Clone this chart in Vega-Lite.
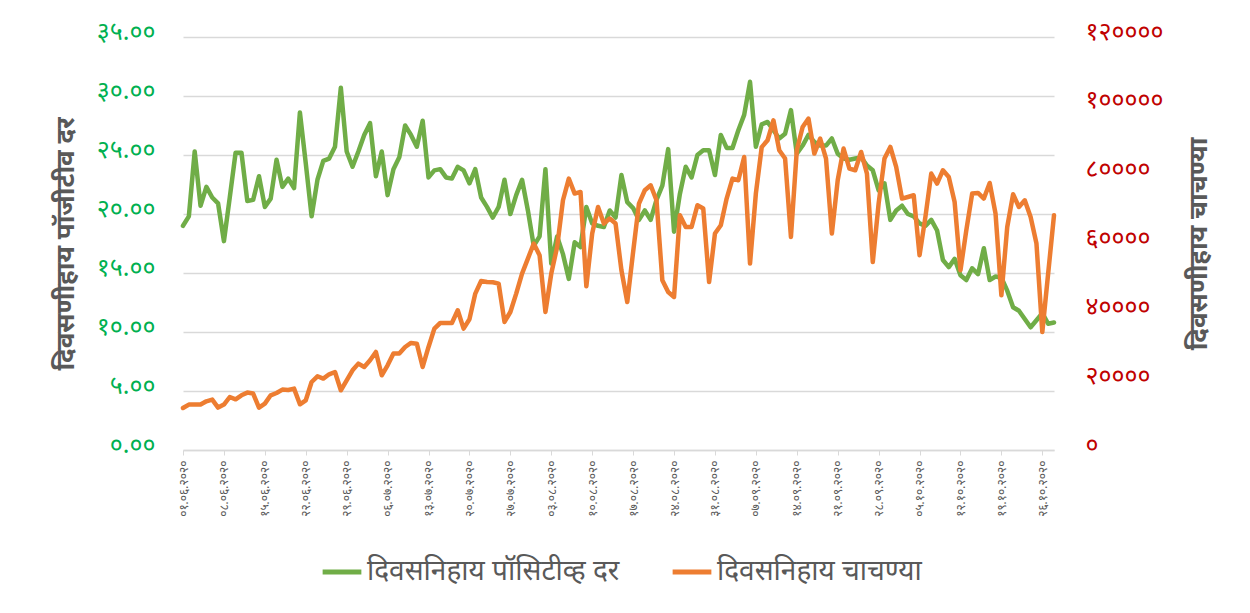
{
  "$schema": "https://vega.github.io/schema/vega-lite/v6.json",
  "width": 871,
  "height": 413,
  "autosize": {"type": "none"},
  "padding": {"left": 183, "top": 37, "right": 196, "bottom": 163},
  "background": "white",
  "config": {
    "view": {"stroke": null},
    "font": "Noto Sans",
    "axis": {"labelFont": "Noto Sans", "titleFont": "Noto Sans"},
    "legend": {"labelFont": "Noto Sans"}
  },
  "data": {
    "values": [
      {"d":"2020-06-01","g":19.0,"t":12200},{"d":"2020-06-02","g":19.8,"t":13200},{"d":"2020-06-03","g":25.3,"t":13200},{"d":"2020-06-04","g":20.7,"t":13200},{"d":"2020-06-05","g":22.3,"t":14150},
      {"d":"2020-06-06","g":21.4,"t":14640},{"d":"2020-06-07","g":20.9,"t":12320},{"d":"2020-06-08","g":17.7,"t":13190},{"d":"2020-06-09","g":21.4,"t":15400},{"d":"2020-06-10","g":25.2,"t":14730},
      {"d":"2020-06-11","g":25.2,"t":15900},{"d":"2020-06-12","g":21.1,"t":16680},{"d":"2020-06-13","g":21.2,"t":16400},{"d":"2020-06-14","g":23.2,"t":12320},{"d":"2020-06-15","g":20.6,"t":13480},
      {"d":"2020-06-16","g":21.3,"t":15900},{"d":"2020-06-17","g":24.6,"t":16560},{"d":"2020-06-18","g":22.3,"t":17550},{"d":"2020-06-19","g":23.0,"t":17450},{"d":"2020-06-20","g":22.2,"t":17840},
      {"d":"2020-06-21","g":28.6,"t":13280},{"d":"2020-06-22","g":24.3,"t":14440},{"d":"2020-06-23","g":19.8,"t":19760},{"d":"2020-06-24","g":22.9,"t":21420},{"d":"2020-06-25","g":24.5,"t":20750},
      {"d":"2020-06-26","g":24.7,"t":22000},{"d":"2020-06-27","g":25.7,"t":22670},{"d":"2020-06-28","g":30.7,"t":17350},{"d":"2020-06-29","g":25.3,"t":20250},{"d":"2020-06-30","g":24.0,"t":23160},
      {"d":"2020-07-01","g":25.3,"t":25100},{"d":"2020-07-02","g":26.7,"t":24120},{"d":"2020-07-03","g":27.7,"t":26070},{"d":"2020-07-04","g":23.2,"t":28480},{"d":"2020-07-05","g":25.3,"t":21710},
      {"d":"2020-07-06","g":21.6,"t":24610},{"d":"2020-07-07","g":23.8,"t":28010},{"d":"2020-07-08","g":24.8,"t":28010},{"d":"2020-07-09","g":27.5,"t":29930},{"d":"2020-07-10","g":26.7,"t":31100},
      {"d":"2020-07-11","g":25.7,"t":30900},{"d":"2020-07-12","g":27.9,"t":24120},{"d":"2020-07-13","g":23.1,"t":29930},{"d":"2020-07-14","g":23.7,"t":35280},{"d":"2020-07-15","g":23.8,"t":36900},
      {"d":"2020-07-16","g":23.1,"t":36900},{"d":"2020-07-17","g":23.0,"t":36900},{"d":"2020-07-18","g":24.0,"t":40600},{"d":"2020-07-19","g":23.7,"t":35280},{"d":"2020-07-20","g":22.6,"t":38000},
      {"d":"2020-07-21","g":23.8,"t":45450},{"d":"2020-07-22","g":21.4,"t":49110},{"d":"2020-07-23","g":20.6,"t":48820},{"d":"2020-07-24","g":19.7,"t":48720},{"d":"2020-07-25","g":20.6,"t":48350},
      {"d":"2020-07-26","g":22.9,"t":37200},{"d":"2020-07-27","g":20.0,"t":40100},{"d":"2020-07-28","g":21.6,"t":45450},{"d":"2020-07-29","g":22.9,"t":51260},{"d":"2020-07-30","g":20.3,"t":55620},
      {"d":"2020-07-31","g":17.3,"t":59980},
      {"d":"2020-08-01","g":18.1,"t":56580},{"d":"2020-08-02","g":23.8,"t":40100},{"d":"2020-08-03","g":15.8,"t":51260},{"d":"2020-08-04","g":18.1,"t":59000},{"d":"2020-08-05","g":16.6,"t":72560},
      {"d":"2020-08-06","g":14.5,"t":78870},{"d":"2020-08-07","g":17.6,"t":74510},{"d":"2020-08-08","g":17.2,"t":74980},{"d":"2020-08-09","g":20.6,"t":47570},{"d":"2020-08-10","g":19.2,"t":62890},
      {"d":"2020-08-11","g":19.0,"t":70620},{"d":"2020-08-12","g":18.9,"t":65790},{"d":"2020-08-13","g":20.3,"t":67240},{"d":"2020-08-14","g":19.7,"t":65790},{"d":"2020-08-15","g":23.3,"t":52220},
      {"d":"2020-08-16","g":21.0,"t":43010},{"d":"2020-08-17","g":20.5,"t":57540},{"d":"2020-08-18","g":19.5,"t":71600},{"d":"2020-08-19","g":20.3,"t":75470},{"d":"2020-08-20","g":19.5,"t":76920},
      {"d":"2020-08-21","g":21.2,"t":72560},{"d":"2020-08-22","g":22.4,"t":49310},{"d":"2020-08-23","g":25.5,"t":45920},{"d":"2020-08-24","g":18.5,"t":44460},{"d":"2020-08-25","g":21.7,"t":68200},
      {"d":"2020-08-26","g":24.0,"t":64800},{"d":"2020-08-27","g":23.1,"t":64800},{"d":"2020-08-28","g":25.0,"t":71110},{"d":"2020-08-29","g":25.4,"t":70150},{"d":"2020-08-30","g":25.4,"t":48820},
      {"d":"2020-08-31","g":23.3,"t":62890},
      {"d":"2020-09-01","g":26.7,"t":65300},{"d":"2020-09-02","g":25.6,"t":73060},{"d":"2020-09-03","g":25.6,"t":78870},{"d":"2020-09-04","g":27.1,"t":78380},{"d":"2020-09-05","g":28.4,"t":85150},
      {"d":"2020-09-06","g":31.2,"t":54170},{"d":"2020-09-07","g":25.7,"t":74510},{"d":"2020-09-08","g":27.6,"t":88000},{"d":"2020-09-09","g":27.8,"t":90000},{"d":"2020-09-10","g":27.1,"t":95800},
      {"d":"2020-09-11","g":26.4,"t":87100},{"d":"2020-09-12","g":26.8,"t":84680},{"d":"2020-09-13","g":28.8,"t":61900},{"d":"2020-09-14","g":25.1,"t":87100},{"d":"2020-09-15","g":25.8,"t":93870},
      {"d":"2020-09-16","g":26.7,"t":96300},{"d":"2020-09-17","g":26.1,"t":86130},{"d":"2020-09-18","g":25.8,"t":90490},{"d":"2020-09-19","g":25.8,"t":84680},{"d":"2020-09-20","g":26.4,"t":62890},
      {"d":"2020-09-21","g":25.1,"t":78380},{"d":"2020-09-22","g":24.7,"t":87580},{"d":"2020-09-23","g":24.6,"t":81770},{"d":"2020-09-24","g":24.7,"t":81280},{"d":"2020-09-25","g":24.8,"t":86600},
      {"d":"2020-09-26","g":24.1,"t":80320},{"d":"2020-09-27","g":23.7,"t":54630},{"d":"2020-09-28","g":22.0,"t":71600},{"d":"2020-09-29","g":22.6,"t":84680},{"d":"2020-09-30","g":19.5,"t":88050},
      {"d":"2020-10-01","g":20.3,"t":82250},{"d":"2020-10-02","g":20.7,"t":73060},{"d":"2020-10-03","g":20.0,"t":73520},{"d":"2020-10-04","g":19.8,"t":74010},{"d":"2020-10-05","g":19.2,"t":56580},
      {"d":"2020-10-06","g":19.0,"t":67710},{"d":"2020-10-07","g":19.5,"t":80320},{"d":"2020-10-08","g":18.6,"t":77420},{"d":"2020-10-09","g":16.1,"t":81280},{"d":"2020-10-10","g":15.5,"t":79340},
      {"d":"2020-10-11","g":16.2,"t":72070},{"d":"2020-10-12","g":14.8,"t":52220},{"d":"2020-10-13","g":14.4,"t":63850},{"d":"2020-10-14","g":15.4,"t":74510},{"d":"2020-10-15","g":14.9,"t":74700},
      {"d":"2020-10-16","g":17.1,"t":73060},{"d":"2020-10-17","g":14.4,"t":77590},{"d":"2020-10-18","g":14.7,"t":68700},{"d":"2020-10-19","g":14.6,"t":44960},{"d":"2020-10-20","g":13.5,"t":64800},
      {"d":"2020-10-21","g":12.1,"t":74300},{"d":"2020-10-22","g":11.8,"t":70620},{"d":"2020-10-23","g":11.1,"t":72560},{"d":"2020-10-24","g":10.4,"t":67710},{"d":"2020-10-25","g":11.0,"t":59980},
      {"d":"2020-10-26","g":11.6,"t":34290},{"d":"2020-10-27","g":10.7,"t":51260},{"d":"2020-10-28","g":10.8,"t":68200}
    ]
  },
  "encoding": {
    "x": {
      "field": "d",
      "type": "temporal",
      "scale": {"type": "utc", "nice": false, "padding": 0},
      "axis": {
        "title": null,
        "grid": false,
        "domain": true,
        "domainColor": "#d9d9d9",
        "domainWidth": 1.5,
        "ticks": true,
        "tickColor": "#d9d9d9",
        "tickSize": 5,
        "tickWidth": 1,
        "labelAngle": -90,
        "labelAlign": "right",
        "labelBaseline": "middle",
        "labelFontSize": 12,
        "labelColor": "#595959",
        "labelPadding": 5,
        "labelOverlap": false,
        "values": [
          {"year":2020,"month":6,"date":1,"utc":true},{"year":2020,"month":6,"date":8,"utc":true},{"year":2020,"month":6,"date":15,"utc":true},{"year":2020,"month":6,"date":22,"utc":true},{"year":2020,"month":6,"date":29,"utc":true},
          {"year":2020,"month":7,"date":6,"utc":true},{"year":2020,"month":7,"date":13,"utc":true},{"year":2020,"month":7,"date":20,"utc":true},{"year":2020,"month":7,"date":27,"utc":true},
          {"year":2020,"month":8,"date":3,"utc":true},{"year":2020,"month":8,"date":10,"utc":true},{"year":2020,"month":8,"date":17,"utc":true},{"year":2020,"month":8,"date":24,"utc":true},{"year":2020,"month":8,"date":31,"utc":true},
          {"year":2020,"month":9,"date":7,"utc":true},{"year":2020,"month":9,"date":14,"utc":true},{"year":2020,"month":9,"date":21,"utc":true},{"year":2020,"month":9,"date":28,"utc":true},
          {"year":2020,"month":10,"date":5,"utc":true},{"year":2020,"month":10,"date":12,"utc":true},{"year":2020,"month":10,"date":19,"utc":true},{"year":2020,"month":10,"date":26,"utc":true}
        ],
        "labelExpr": "replace(replace(replace(replace(replace(replace(replace(replace(replace(replace(utcFormat(datum.value,'%d.%m.%Y'),regexp('0','g'),'०'),regexp('1','g'),'१'),regexp('2','g'),'२'),regexp('3','g'),'३'),regexp('4','g'),'४'),regexp('5','g'),'५'),regexp('6','g'),'६'),regexp('7','g'),'७'),regexp('8','g'),'८'),regexp('9','g'),'९')"
      }
    }
  },
  "layer": [
    {
      "mark": {"type": "line", "strokeWidth": 4.5, "strokeJoin": "round", "strokeCap": "round"},
      "encoding": {
        "y": {
          "field": "g",
          "type": "quantitative",
          "scale": {"domain": [0, 35], "nice": false, "zero": true},
          "axis": {
            "title": "दिवसणीहाय पॉजीटीव दर",
            "titleFontSize": 26,
            "titleFontWeight": "bold",
            "titleColor": "#595959",
            "titlePadding": 18,
            "values": [0, 5, 10, 15, 20, 25, 30, 35],
            "grid": true,
            "gridColor": "#d9d9d9",
            "gridWidth": 1.5,
            "domain": false,
            "ticks": false,
            "labelColor": "#00B050",
            "labelFontSize": 25,
            "labelPadding": 28,
            "labelOffset": -6,
            "labelExpr": "replace(replace(replace(replace(replace(replace(replace(replace(replace(replace(format(datum.value,'.2f'),regexp('0','g'),'०'),regexp('1','g'),'१'),regexp('2','g'),'२'),regexp('3','g'),'३'),regexp('4','g'),'४'),regexp('5','g'),'५'),regexp('6','g'),'६'),regexp('7','g'),'७'),regexp('8','g'),'८'),regexp('9','g'),'९')"
          }
        },
        "color": {
          "datum": "दिवसनिहाय पॉसिटीव्ह दर",
          "scale": {"domain": ["दिवसनिहाय पॉसिटीव्ह दर", "दिवसनिहाय चाचण्या"], "range": ["#70AD47", "#ED7D31"]},
          "legend": {
            "title": null,
            "orient": "none",
            "legendX": 137,
            "legendY": 513,
            "direction": "horizontal",
            "symbolType": "stroke",
            "symbolStrokeWidth": 5,
            "symbolSize": 1500,
            "labelFontSize": 28,
            "labelLimit": 0,
            "labelColor": "#595959",
            "columnPadding": 42,
            "labelOffset": 3
          }
        }
      }
    },
    {
      "mark": {"type": "line", "strokeWidth": 4.5, "strokeJoin": "round", "strokeCap": "round"},
      "encoding": {
        "y": {
          "field": "t",
          "type": "quantitative",
          "scale": {"domain": [0, 120000], "nice": false},
          "axis": {
            "orient": "right",
            "title": "दिवसणीहाय चाचण्या",
            "titleFontSize": 26,
            "titleFontWeight": "bold",
            "titleColor": "#595959",
            "titleAngle": -90,
            "titlePadding": 48,
            "values": [0, 20000, 40000, 60000, 80000, 100000, 120000],
            "grid": false,
            "domain": false,
            "ticks": false,
            "labelColor": "#C00000",
            "labelFontSize": 25,
            "labelPadding": 31,
            "labelOffset": -6,
            "labelExpr": "replace(replace(replace(replace(replace(replace(replace(replace(replace(replace(format(datum.value,'d'),regexp('0','g'),'०'),regexp('1','g'),'१'),regexp('2','g'),'२'),regexp('3','g'),'३'),regexp('4','g'),'४'),regexp('5','g'),'५'),regexp('6','g'),'६'),regexp('7','g'),'७'),regexp('8','g'),'८'),regexp('9','g'),'९')"
          }
        },
        "color": {"datum": "दिवसनिहाय चाचण्या"}
      }
    }
  ],
  "resolve": {"scale": {"y": "independent"}}
}
